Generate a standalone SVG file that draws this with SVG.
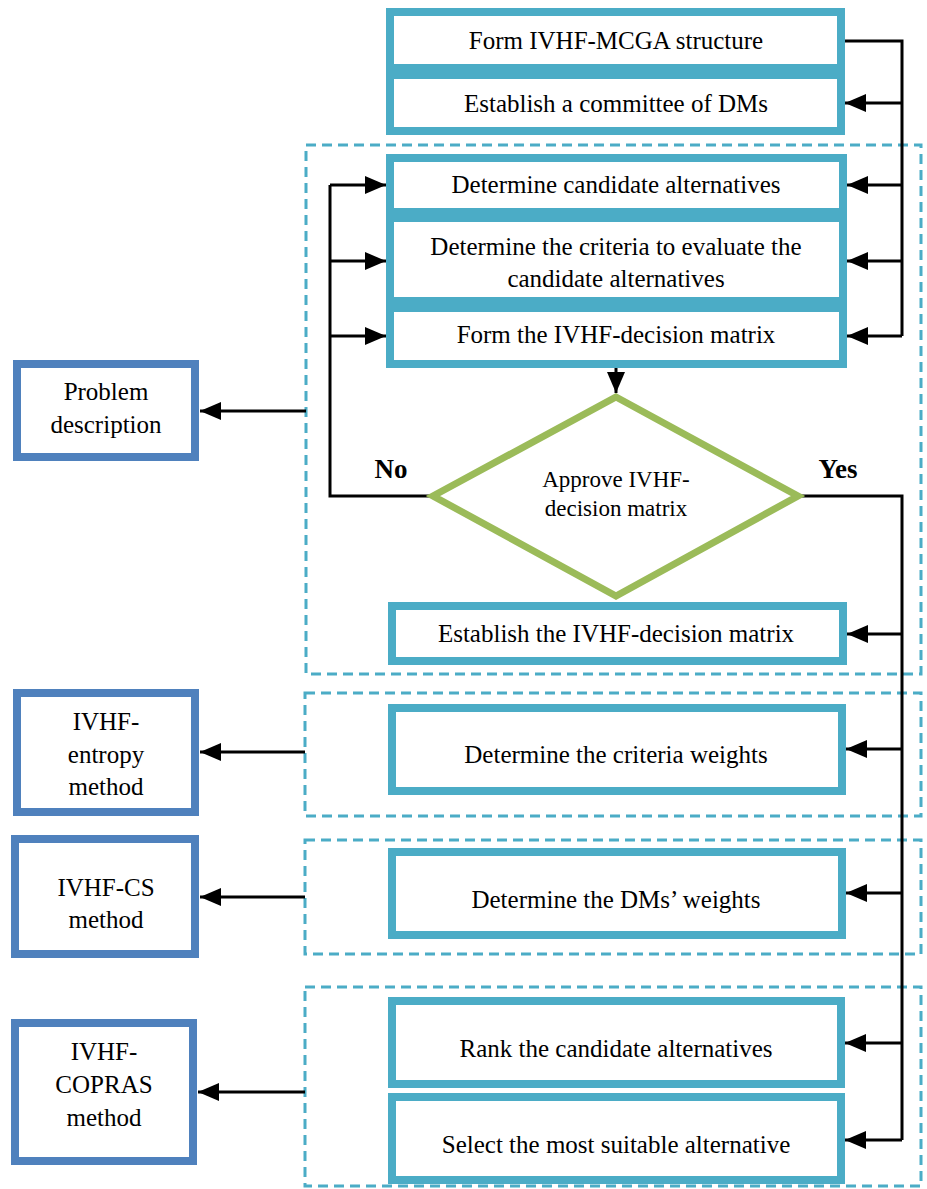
<svg xmlns="http://www.w3.org/2000/svg" width="927" height="1189" viewBox="0 0 927 1189">
<style>
.step{fill:#fff;stroke:#4BACC6;stroke-width:8}
.side{fill:#fff;stroke:#4F81BD;stroke-width:8}
.dash{fill:none;stroke:#4BACC6;stroke-width:3;stroke-dasharray:10 6}
.dec{fill:#fff;stroke:#9BBB59;stroke-width:7}
.c{fill:none;stroke:#000;stroke-width:3}
text{font-family:'Liberation Serif','DejaVu Serif',serif;fill:#000;text-anchor:middle}
.t{font-size:25px}
.td{font-size:23px}
.tb{font-size:27px;font-weight:bold}
</style>
<defs>
<marker id="ah" markerUnits="userSpaceOnUse" markerWidth="22" markerHeight="20" refX="21" refY="9" orient="auto">
<path d="M0,0 L21,9 L0,18 Z" fill="#000"/>
</marker>
</defs>
<rect id="grp1" class="dash" x="306" y="145" width="615" height="529"/>
<rect id="grp2" class="dash" x="305" y="693" width="616" height="123"/>
<rect id="grp3" class="dash" x="305" y="840" width="616" height="114"/>
<rect id="grp4" class="dash" x="305" y="987" width="616" height="199"/>
<g id="connectors">
<polyline class="c" points="845,41 902,41 902,336"/>
<line class="c" x1="902" y1="103" x2="845" y2="103" marker-end="url(#ah)"/>
<line class="c" x1="902" y1="185" x2="847" y2="185" marker-end="url(#ah)"/>
<line class="c" x1="902" y1="261" x2="847" y2="261" marker-end="url(#ah)"/>
<line class="c" x1="902" y1="336" x2="847" y2="336" marker-end="url(#ah)"/>
<polyline class="c" points="430,496 330,496 330,185"/>
<line class="c" x1="330" y1="185" x2="386" y2="185" marker-end="url(#ah)"/>
<line class="c" x1="330" y1="261" x2="386" y2="261" marker-end="url(#ah)"/>
<line class="c" x1="330" y1="336" x2="386" y2="336" marker-end="url(#ah)"/>
<line class="c" x1="616" y1="368" x2="616" y2="393" marker-end="url(#ah)"/>
<polyline class="c" points="800,496 902,496 902,1140"/>
<line class="c" x1="902" y1="634" x2="847" y2="634" marker-end="url(#ah)"/>
<line class="c" x1="902" y1="749" x2="846" y2="749" marker-end="url(#ah)"/>
<line class="c" x1="902" y1="893" x2="846" y2="893" marker-end="url(#ah)"/>
<line class="c" x1="902" y1="1043" x2="845" y2="1043" marker-end="url(#ah)"/>
<line class="c" x1="902" y1="1140" x2="845" y2="1140" marker-end="url(#ah)"/>
<line class="c" x1="306" y1="411" x2="200" y2="411" marker-end="url(#ah)"/>
<line class="c" x1="305" y1="752" x2="200" y2="752" marker-end="url(#ah)"/>
<line class="c" x1="305" y1="897" x2="200" y2="897" marker-end="url(#ah)"/>
<line class="c" x1="305" y1="1092" x2="198" y2="1092" marker-end="url(#ah)"/>
</g>
<g id="n1"><rect class="step" x="390" y="12" width="451" height="56"/><text class="t" x="616" y="49">Form IVHF-MCGA structure</text></g>
<g id="n2"><rect class="step" x="390" y="75" width="451" height="56"/><text class="t" x="616" y="112">Establish a committee of DMs</text></g>
<g id="n3"><rect class="step" x="390" y="158" width="453" height="54"/><text class="t" x="616" y="193">Determine candidate alternatives</text></g>
<g id="n4"><rect class="step" x="390" y="218" width="453" height="83"/><text class="t" x="616" y="255">Determine the criteria to evaluate the</text><text class="t" x="616" y="287">candidate alternatives</text></g>
<g id="n5"><rect class="step" x="390" y="308" width="453" height="56"/><text class="t" x="616" y="343">Form the IVHF-decision matrix</text></g>
<g id="n6"><polygon class="dec" points="616,397 798,496 616,596 433,496"/><text class="td" x="616" y="487">Approve IVHF-</text><text class="td" x="616" y="516">decision matrix</text></g>
<text class="tb" x="391" y="478">No</text>
<text class="tb" x="838" y="478">Yes</text>
<g id="n7"><rect class="step" x="392" y="606" width="451" height="55"/><text class="t" x="616" y="642">Establish the IVHF-decision matrix</text></g>
<g id="n8"><rect class="step" x="392" y="708" width="450" height="83"/><text class="t" x="616" y="763">Determine the criteria weights</text></g>
<g id="n9"><rect class="step" x="392" y="852" width="450" height="83"/><text class="t" x="616" y="908">Determine the DMs’ weights</text></g>
<g id="n10"><rect class="step" x="392" y="1001" width="449" height="83"/><text class="t" x="616" y="1057">Rank the candidate alternatives</text></g>
<g id="n11"><rect class="step" x="392" y="1097" width="449" height="83"/><text class="t" x="616" y="1153">Select the most suitable alternative</text></g>
<g id="s1"><rect class="side" x="17" y="364" width="178" height="93"/><text class="t" x="106" y="400">Problem</text><text class="t" x="106" y="433">description</text></g>
<g id="s2"><rect class="side" x="17" y="693" width="178" height="119"/><text class="t" x="106" y="730">IVHF-</text><text class="t" x="106" y="763">entropy</text><text class="t" x="106" y="795">method</text></g>
<g id="s3"><rect class="side" x="15" y="839" width="180" height="115"/><text class="t" x="106" y="896">IVHF-CS</text><text class="t" x="106" y="928">method</text></g>
<g id="s4"><rect class="side" x="15" y="1023" width="178" height="138"/><text class="t" x="104" y="1060">IVHF-</text><text class="t" x="104" y="1093">COPRAS</text><text class="t" x="104" y="1126">method</text></g>
</svg>
